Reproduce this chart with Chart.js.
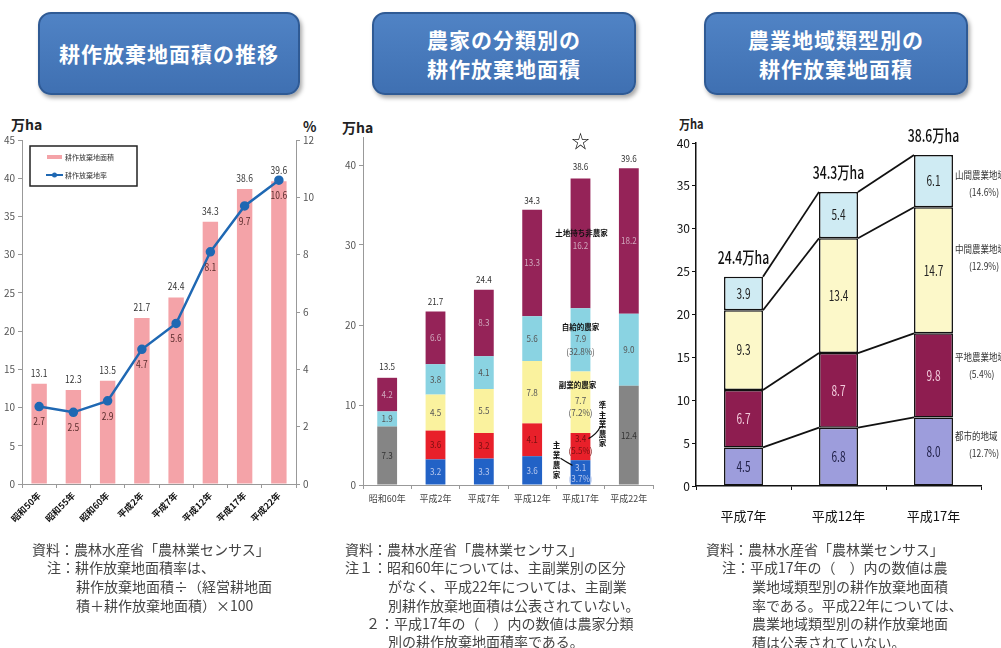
<!DOCTYPE html>
<html lang="ja">
<head>
<meta charset="utf-8">
<script src="https://cdn.jsdelivr.net/npm/chart.js@4.4.1/dist/chart.umd.min.js"></script>
<style>
body{margin:0;width:1001px;height:648px;background:#fff;position:relative;overflow:hidden;font-family:"Noto Sans CJK JP",sans-serif;}
.hdr{position:absolute;top:12px;height:83px;background:linear-gradient(#5083c5,#3f70b2);border:2px solid #2f5a94;border-radius:13px;box-shadow:2px 3px 4px rgba(0,0,0,.35);color:#fff;font-weight:bold;font-size:21px;letter-spacing:1px;display:flex;align-items:center;justify-content:center;text-align:center;line-height:29px;box-sizing:border-box}
canvas{position:absolute}
.u{position:absolute;white-space:nowrap;font-weight:bold;color:#222}
.cap{position:absolute;font-size:14px;color:#444;white-space:nowrap;line-height:18.5px}
</style>
</head>
<body>
<div class="hdr" style="left:38px;width:262px">耕作放棄地面積の推移</div>
<div class="hdr" style="left:372px;width:264px">農家の分類別の<br>耕作放棄地面積</div>
<div class="hdr" style="left:704px;width:264px">農業地域類型別の<br>耕作放棄地面積</div>

<div class="u" style="left:11px;top:114px;font-size:14px">万ha</div>
<div class="u" style="left:303px;top:116px;font-size:14px">%</div>
<div class="u" style="left:342px;top:117px;font-size:14px">万ha</div>
<div class="u" style="left:679px;top:114px;font-size:13px;transform:scaleX(0.85);transform-origin:left">万ha</div>

<canvas id="c1" width="320" height="420" style="left:0;top:120px"></canvas>
<canvas id="c2" width="330" height="420" style="left:330px;top:120px"></canvas>
<canvas id="c3" width="336" height="435" style="left:665px;top:105px"></canvas>

<div class="cap" style="left:32px;top:540px">資料：農林水産省「農林業センサス」</div>
<div class="cap" style="left:47px;top:558px">注：耕作放棄地面積率は、</div>
<div class="cap" style="left:76px;top:577px">耕作放棄地面積÷（経営耕地面<br>積＋耕作放棄地面積）×100</div>

<div class="cap" style="left:345px;top:540px">資料：農林水産省「農林業センサス」</div>
<div class="cap" style="left:345px;top:558px">注１：昭和60年については、主副業別の区分</div>
<div class="cap" style="left:388px;top:577px">がなく、平成22年については、主副業<br>別耕作放棄地面積は公表されていない。</div>
<div class="cap" style="left:366px;top:614px">２：平成17年の（　）内の数値は農家分類</div>
<div class="cap" style="left:388px;top:632px">別の耕作放棄地面積率である。</div>

<div class="cap" style="left:706px;top:540px">資料：農林水産省「農林業センサス」</div>
<div class="cap" style="left:722px;top:558px">注：平成17年の（　）内の数値は農</div>
<div class="cap" style="left:752px;top:577px">業地域類型別の耕作放棄地面積<br>率である。平成22年については、<br>農業地域類型別の耕作放棄地面<br>積は公表されていない。</div>

<script>
// 耕作放棄地面積の推移
const years1 = ['昭和50年', '昭和55年', '昭和60年', '平成2年', '平成7年', '平成12年', '平成17年', '平成22年'];
const area1 = [13.1, 12.3, 13.5, 21.7, 24.4, 34.3, 38.6, 39.6];
const rate1 = [2.7, 2.5, 2.9, 4.7, 5.6, 8.1, 9.7, 10.6];

// 農家の分類別 (昭和60年・平成22年は主副業別なし)
const years2 = ['昭和60年', '平成2年', '平成7年', '平成12年', '平成17年', '平成22年'];
const hanbai2 = [7.3, null, null, null, null, 12.4];
const shugyo2 = [null, 3.2, 3.3, 3.6, 3.1, null];
const junshugyo2 = [null, 3.6, 3.2, 4.1, 3.4, null];
const fukugyo2 = [null, 4.5, 5.5, 7.8, 7.7, null];
const jikyu2 = [1.9, 3.8, 4.1, 5.6, 7.9, 9.0];
const tochi2 = [4.2, 6.6, 8.3, 13.3, 16.2, 18.2];
const total2 = [13.5, 21.7, 24.4, 34.3, 38.6, 39.6];
const rateH17 = ['', '(3.7%)', '(5.5%)', '(7.2%)', '(32.8%)', ''];

// 農業地域類型別
const years3 = ['平成7年', '平成12年', '平成17年'];
const toshi3 = [4.5, 6.8, 8.0];
const heichi3 = [6.7, 8.7, 9.8];
const chukan3 = [9.3, 13.4, 14.7];
const sankan3 = [3.9, 5.4, 6.1];
const total3 = [24.4, 34.3, 38.6];
const names3 = ['都市的地域', '平地農業地域', '中間農業地域', '山間農業地域'];
const rates3 = ['(12.7%)', '(5.4%)', '(12.9%)', '(14.6%)'];

Chart.defaults.font.family = "'Noto Sans CJK JP', sans-serif";
Chart.defaults.animation = false;
Chart.defaults.plugins.legend.display = false;
Chart.defaults.plugins.tooltip.enabled = false;

const narrow = "'Liberation Sans Narrow', 'Noto Sans CJK JP', sans-serif";

// narrow-looking text (the source uses a condensed face)
function squeeze(ctx, str, x, y, sx) {
  ctx.save();
  ctx.translate(x, y);
  ctx.scale(sx, 1);
  ctx.fillText(str, 0, 0);
  ctx.restore();
}

// ---------- chart 1 ----------
const labels1 = {
  id: 'labels1',
  afterDatasetsDraw(chart) {
    const ctx = chart.ctx;
    ctx.save();
    ctx.font = '10px ' + narrow;
    ctx.textAlign = 'center';
    ctx.textBaseline = 'middle';
    const bars = chart.getDatasetMeta(0).data;
    bars.forEach((el, i) => {
      ctx.fillStyle = '#333';
      squeeze(ctx, area1[i].toFixed(1), el.x, el.y - 11, 0.85);
    });
    const pts = chart.getDatasetMeta(1).data;
    pts.forEach((el, i) => {
      ctx.fillStyle = '#5a2c2c';
      squeeze(ctx, rate1[i].toFixed(1), el.x, el.y + 15, 0.85);
    });
    // legend box
    ctx.strokeStyle = '#222';
    ctx.lineWidth = 1.5;
    ctx.strokeRect(30, 26, 107, 40);
    ctx.fillStyle = '#f4a3a8';
    ctx.fillRect(47, 35, 15, 4);
    ctx.strokeStyle = '#1f68b3';
    ctx.lineWidth = 2;
    ctx.beginPath(); ctx.moveTo(46, 55); ctx.lineTo(63, 55); ctx.stroke();
    ctx.fillStyle = '#1f68b3';
    ctx.beginPath(); ctx.arc(54.5, 55, 2.5, 0, Math.PI * 2); ctx.fill();
    ctx.fillStyle = '#333';
    ctx.textAlign = 'left';
    ctx.font = '7px ' + Chart.defaults.font.family;
    ctx.fillText(chart.data.datasets[0].label, 65, 37);
    ctx.fillText(chart.data.datasets[1].label, 65, 55);
    ctx.restore();
  }
};

new Chart(document.getElementById('c1'), {
  type: 'bar',
  data: {
    labels: years1,
    datasets: [
      { label: '耕作放棄地面積', data: area1, backgroundColor: '#f4a3a8', yAxisID: 'y', order: 1,
        barPercentage: 0.45, categoryPercentage: 1 },
      { label: '耕作放棄地率', type: 'line', data: rate1, yAxisID: 'y1', order: 0,
        borderColor: '#1f68b3', backgroundColor: '#1f68b3', borderWidth: 2.5,
        pointRadius: 3.5, pointBackgroundColor: '#1f68b3', tension: 0 }
    ]
  },
  options: {
    responsive: false,
    layout: { padding: { top: 20 } },
    scales: {
      x: {
        grid: { drawOnChartArea: false, tickLength: 4, color: '#999' },
        border: { color: '#999' },
        ticks: { minRotation: 45, maxRotation: 45, padding: 2, color: '#111',
          font: { size: 9, weight: 'bold' } },
        afterFit(s) { s.height = 56; }
      },
      y: {
        min: 0, max: 45,
        ticks: { stepSize: 5, padding: 3, color: '#555', font: { size: 10, family: narrow } },
        grid: { drawOnChartArea: false, tickLength: 4, color: '#999' },
        border: { color: '#999' },
        afterFit(s) { s.width = 22; }
      },
      y1: {
        position: 'right', min: 0, max: 12,
        ticks: { stepSize: 2, padding: 3, color: '#555', font: { size: 10, family: narrow } },
        grid: { drawOnChartArea: false, tickLength: 4, color: '#999' },
        border: { color: '#999' },
        afterFit(s) { s.width = 24; }
      }
    }
  },
  plugins: [labels1]
});

// ---------- chart 2 ----------
function vtext(ctx, str, x, y, step) {
  [...str].forEach((ch, k) => ctx.fillText(ch, x, y + k * step));
}

const labels2 = {
  id: 'labels2',
  afterDatasetsDraw(chart) {
    const ctx = chart.ctx;
    const fam = Chart.defaults.font.family;
    const txtCol = ['#333', '#b8c8ee', '#7a1010', '#555', '#555', '#d0a8bd'];
    ctx.save();
    ctx.textAlign = 'center';
    ctx.textBaseline = 'middle';
    chart.data.datasets.forEach((ds, d) => {
      chart.getDatasetMeta(d).data.forEach((el, i) => {
        const v = ds.data[i];
        if (v == null) return;
        const cy = (el.y + el.base) / 2;
        ctx.font = '9px ' + narrow;
        if (i !== 4) {
          ctx.fillStyle = txtCol[d];
          squeeze(ctx, v.toFixed(1), el.x, cy, 0.9);
          return;
        }
        // 平成17年: 分類名と率を添える
        const off = [0, [-5, 6], [-8, 4], [-2, 10], [-1, 12], [2, 0]][d];
        ctx.fillStyle = txtCol[d];
        squeeze(ctx, v.toFixed(1), el.x, cy + off[0], 0.9);
        if (rateH17[d]) squeeze(ctx, rateH17[d], el.x, cy + off[1], 0.9);
        ctx.fillStyle = '#111';
        ctx.font = 'bold 7.5px ' + fam;
        if (d === 5) ctx.fillText(ds.label, el.x + 1, cy - 10);
        if (d === 4) ctx.fillText(ds.label, el.x, cy - 13);
        if (d === 3) ctx.fillText(ds.label, el.x - 3, cy - 17);
        ctx.strokeStyle = '#111';
        ctx.lineWidth = 1.2;
        if (d === 2) {
          vtext(ctx, ds.label, el.x + 22, cy - 41, 9.5);
          ctx.beginPath(); ctx.moveTo(el.x + 8, cy - 8); ctx.quadraticCurveTo(el.x + 16, cy - 12, el.x + 20, cy - 20); ctx.stroke();
        }
        if (d === 1) {
          vtext(ctx, ds.label, el.x - 24, cy - 27, 10);
          ctx.beginPath(); ctx.moveTo(el.x - 20, cy - 14); ctx.quadraticCurveTo(el.x - 14, cy - 10, el.x - 8, cy - 7); ctx.stroke();
        }
      });
    });
    // 合計
    ctx.fillStyle = '#333';
    ctx.font = '9px ' + narrow;
    const top = chart.getDatasetMeta(5).data;
    top.forEach((el, i) => squeeze(ctx, total2[i].toFixed(1), el.x, chart.scales.y.getPixelForValue(total2[i]) - 10, 0.9));
    // 星印
    ctx.font = '18px ' + fam;
    ctx.fillStyle = '#111';
    ctx.fillText('☆', top[4].x, 21);
    ctx.restore();
  }
};

const bar2 = { barPercentage: 0.41, categoryPercentage: 1 };
new Chart(document.getElementById('c2'), {
  type: 'bar',
  data: {
    labels: years2,
    datasets: [
      { label: '販売農家', data: hanbai2, backgroundColor: '#858585', ...bar2 },
      { label: '主業農家', data: shugyo2, backgroundColor: '#2262c6', ...bar2 },
      { label: '準主業農家', data: junshugyo2, backgroundColor: '#e8202a', ...bar2 },
      { label: '副業的農家', data: fukugyo2, backgroundColor: '#faf29e', ...bar2 },
      { label: '自給的農家', data: jikyu2, backgroundColor: '#8ad3e2', ...bar2 },
      { label: '土地持ち非農家', data: tochi2, backgroundColor: '#952358', ...bar2 }
    ]
  },
  options: {
    responsive: false,
    layout: { padding: { top: 17, right: 7 } },
    scales: {
      x: {
        stacked: true,
        grid: { drawOnChartArea: false, tickLength: 4, color: '#999' },
        border: { color: '#999' },
        ticks: { padding: 4, color: '#444', font: { size: 9 } },
        afterFit(s) { s.height = 55; }
      },
      y: {
        stacked: true, min: 0, max: 43.5,
        ticks: { stepSize: 10, padding: 3, color: '#555', font: { size: 10, family: narrow } },
        afterBuildTicks(s) { s.ticks = s.ticks.filter(t => t.value % 10 === 0); },
        grid: { drawOnChartArea: false, tickLength: 4, color: '#999' },
        border: { color: '#999' },
        afterFit(s) { s.width = 33; }
      }
    }
  },
  plugins: [labels2]
});

// ---------- chart 3 ----------
const labels3 = {
  id: 'labels3',
  afterDatasetsDraw(chart) {
    const ctx = chart.ctx;
    const fam = Chart.defaults.font.family;
    const txtCol = ['#22224a', '#f2cadb', '#222', '#222'];
    const n = chart.data.labels.length;
    ctx.save();
    // 年次間の接続線
    ctx.strokeStyle = '#111';
    ctx.lineWidth = 1.8;
    chart.data.datasets.forEach((ds, d) => {
      const els = chart.getDatasetMeta(d).data;
      for (let i = 0; i < n - 1; i++) {
        const a = els[i], b = els[i + 1];
        ctx.beginPath();
        ctx.moveTo(a.x + a.width / 2, a.y);
        ctx.lineTo(b.x - b.width / 2, b.y);
        ctx.stroke();
      }
    });
    // 数値
    ctx.textAlign = 'center';
    ctx.textBaseline = 'middle';
    ctx.font = '14px ' + narrow;
    chart.data.datasets.forEach((ds, d) => {
      chart.getDatasetMeta(d).data.forEach((el, i) => {
        ctx.fillStyle = txtCol[d];
        squeeze(ctx, ds.data[i].toFixed(1), el.x, (el.y + el.base) / 2, 0.72);
      });
    });
    // 合計
    ctx.fillStyle = '#111';
    ctx.font = '500 17px ' + narrow;
    chart.getDatasetMeta(3).data.forEach((el, i) => {
      squeeze(ctx, total3[i].toFixed(1) + '万ha', el.x, chart.scales.y.getPixelForValue(total3[i]) - 19, 0.72);
    });
    // 右側の類型名
    ctx.textAlign = 'left';
    const nameOff = [-15, -18, -21, -6];
    chart.data.datasets.forEach((ds, d) => {
      const el = chart.getDatasetMeta(d).data[n - 1];
      const cy = (el.y + el.base) / 2 + nameOff[d];
      ctx.fillStyle = '#333';
      ctx.font = '10px ' + fam;
      squeeze(ctx, names3[d], el.x + el.width / 2 + 2, cy, 0.85);
      ctx.font = '10px ' + narrow;
      squeeze(ctx, rates3[d], el.x + el.width / 2 + 16, cy + 17, 0.85);
    });
    ctx.restore();
  }
};

const bar3 = { barPercentage: 0.41, categoryPercentage: 1, borderColor: '#111', borderWidth: 1.5, borderSkipped: false };
new Chart(document.getElementById('c3'), {
  type: 'bar',
  data: {
    labels: years3,
    datasets: [
      { label: names3[0], data: toshi3, backgroundColor: '#9d9ddc', ...bar3 },
      { label: names3[1], data: heichi3, backgroundColor: '#8e1d50', ...bar3 },
      { label: names3[2], data: chukan3, backgroundColor: '#fcf8c9', ...bar3 },
      { label: names3[3], data: sankan3, backgroundColor: '#cfebf3', ...bar3 }
    ]
  },
  options: {
    responsive: false,
    layout: { padding: { top: 38, right: 20 } },
    scales: {
      x: {
        stacked: true,
        grid: { drawOnChartArea: false, tickLength: 4, color: '#111' },
        border: { color: '#111', width: 1.5 },
        ticks: { padding: 18, color: '#111', font: { size: 13 } },
        afterFit(s) { s.height = 54; }
      },
      y: {
        stacked: true, min: 0, max: 40,
        ticks: { stepSize: 5, padding: 2, color: '#111', font: { size: 12, family: narrow } },
        grid: { drawOnChartArea: false, tickLength: 4, color: '#111' },
        border: { color: '#111', width: 1.5 },
        afterFit(s) { s.width = 31; }
      }
    }
  },
  plugins: [labels3]
});
</script>
</body>
</html>
